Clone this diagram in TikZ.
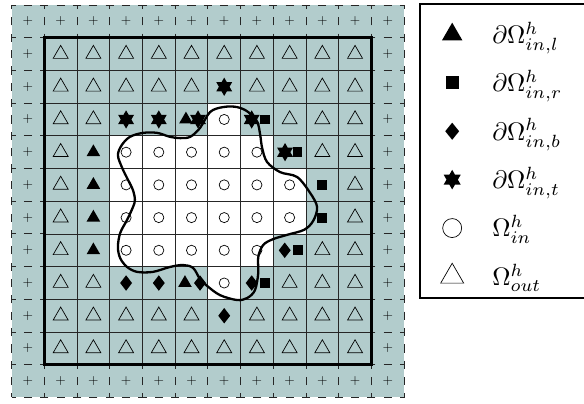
\documentclass[tikz,border=0pt]{standalone}
\usetikzlibrary{shapes.geometric}
\definecolor{cellfill}{RGB}{178,204,204}

\begin{document}
\begin{tikzpicture}[
		gridline/.style={black!85, line width=0.7pt},
		ringline/.style={black!85, line width=0.8pt, dash pattern=on 0.25cm off 0.25cm, dash phase=0.125cm},
		plus/.style={font=\large, inner sep=0pt},
		otri/.style={draw, line width=0.6pt, regular polygon, regular polygon sides=3, minimum size=0.53cm, inner sep=0pt},
		ftri/.style={fill, regular polygon, regular polygon sides=3, minimum size=0.48cm, inner sep=0pt},
		sqr/.style={fill, rectangle, minimum size=0.3cm, inner sep=0pt},
		dmd/.style={fill, diamond, minimum width=0.37cm, minimum height=0.48cm, inner sep=0pt},
		hexa/.style={fill, star, star points=6, star point ratio=1.73, minimum size=0.56cm, inner sep=0pt},
		circ/.style={draw, line width=0.6pt, circle, minimum size=0.31cm, inner sep=0pt},
		legtxt/.style={anchor=base west, scale=2.2, inner sep=0pt}
	]
	\useasboundingbox (-0.355,-0.17) rectangle (17.5,12.153);
	% whole mesh
	\fill[cellfill] (0,0) rectangle (12,12);
	% cells inside the domain
	\foreach \r/\a/\b in {3/6/6, 4/3/7, 5/3/8, 6/3/8, 7/3/7, 8/6/6} {
		\foreach \c in {\a,...,\b} {
			\fill[white] (\c,11-\r) rectangle ++(1,1);
			\node[circ] (o\c-\r) at (\c+0.5,11.5-\r) {};
		}
	}
	\draw[gridline] (1,1) grid (11,11);
	% ghost cells
	\foreach \i in {0,...,11} {
		\draw[ringline] (\i,11) rectangle ++(1,1);
		\draw[ringline] (\i,0) rectangle ++(1,1);
		\node[plus] (pt\i) at (\i+0.5,11.5) {$+$};
		\node[plus] (pb\i) at (\i+0.5,0.5) {$+$};
	}
	\foreach \i in {1,...,10} {
		\draw[ringline] (0,\i) rectangle ++(1,1);
		\draw[ringline] (11,\i) rectangle ++(1,1);
		\node[plus] (pl\i) at (0.5,\i+0.5) {$+$};
		\node[plus] (pr\i) at (11.5,\i+0.5) {$+$};
	}
	\draw[line width=2.4pt] (1,1) rectangle (11,11);
	% outside cells
	\foreach \r/\cols in {1/{1,...,10}, 2/{1,2,3,4,5,7,8,9,10}, 3/{1,2,8,9,10}, 4/{1,9,10}, 5/{1,10},
		6/{1,10}, 7/{1,9,10}, 8/{1,2,8,9,10}, 9/{1,2,3,4,5,7,8,9,10}, 10/{1,...,10}} {
		\foreach \c in \cols {
			\node[otri] (t\c-\r) at (\c+0.5,11.5-\r) {};
		}
	}
	% boundary cells
	\foreach \c/\r/\dx in {2/4/0, 2/5/0, 2/6/0, 2/7/0, 5/3/-0.17, 5/8/-0.2} {
		\node[ftri] (l\c-\r) at ({\c+0.5+(\dx)},11.5-\r) {};
	}
	\foreach \c/\r/\dx in {9/5/0, 9/6/0, 7/3/0.25, 8/4/0.24, 8/7/0.25, 7/8/0.25} {
		\node[sqr] (s\c-\r) at ({\c+0.5+(\dx)},11.5-\r) {};
	}
	\foreach \c/\r/\dx in {3/8/0, 4/8/0, 6/9/0, 5/8/0.26, 8/7/-0.15, 7/8/-0.16} {
		\node[dmd] (d\c-\r) at ({\c+0.5+(\dx)},11.5-\r) {};
	}
	\foreach \c/\r/\dx in {3/3/0, 4/3/0, 6/2/0, 5/3/0.2, 7/3/-0.16, 8/4/-0.14} {
		\node[hexa] (h\c-\r) at ({\c+0.5+(\dx)},11.5-\r) {};
	}
	% interface
	\draw[line width=2pt] plot[smooth cycle, tension=0.55] coordinates {
		(3.37,7.72) (3.62,7.97) (4.02,8.09) (4.45,8.09) (4.84,7.97) (5.15,7.93) (5.46,7.97)
		(5.76,8.24) (6.07,8.73) (6.47,8.88) (6.89,8.88) (7.23,8.73) (7.51,8.42) (7.60,8.03)
		(7.66,7.63) (7.81,7.20) (8.21,6.89) (8.73,6.74) (9.13,6.25) (9.34,5.82) (9.22,5.40)
		(8.95,5.13) (8.45,4.98) (7.99,4.84) (7.69,4.66) (7.54,4.29) (7.54,3.80) (7.44,3.28)
		(7.20,3.04) (6.89,2.98) (6.37,3.13) (5.98,3.41) (5.76,3.62) (5.55,3.96) (5.24,4.05)
		(4.84,3.99) (4.32,3.84) (3.84,3.84) (3.53,3.99) (3.32,4.26) (3.25,4.60) (3.32,5.03)
		(3.53,5.43) (3.71,5.82) (3.77,6.04) (3.71,6.34) (3.56,6.65) (3.38,7.02) (3.25,7.41)};
	% legend
	\draw[line width=1.6pt] (12.49,3.04) rectangle (17.6,12.04);
	\node[ftri, minimum size=0.72cm] (kl) at (13.47,11.1) {};
	\node[sqr, minimum size=0.4cm] (kr) at (13.47,9.62) {};
	\node[dmd, minimum width=0.43cm, minimum height=0.53cm] (kb) at (13.47,8.14) {};
	\node[hexa, minimum size=0.6cm] (kt) at (13.47,6.66) {};
	\node[circ, minimum size=0.58cm] (ki) at (13.47,5.18) {};
	\node[otri, minimum size=0.81cm] (ko) at (13.47,3.7) {};
	\node[legtxt] (ll) at (14.68,10.83) {$\partial\Omega^h_{in,l}$};
	\node[legtxt] (lr) at (14.68,9.35) {$\partial\Omega^h_{in,r}$};
	\node[legtxt] (lb) at (14.68,7.87) {$\partial\Omega^h_{in,b}$};
	\node[legtxt] (lt) at (14.68,6.39) {$\partial\Omega^h_{in,t}$};
	\node[legtxt] (li) at (14.68,4.91) {$\Omega^h_{in}$};
	\node[legtxt] (lo) at (14.68,3.43) {$\Omega^h_{out}$};
\end{tikzpicture}
\end{document}
